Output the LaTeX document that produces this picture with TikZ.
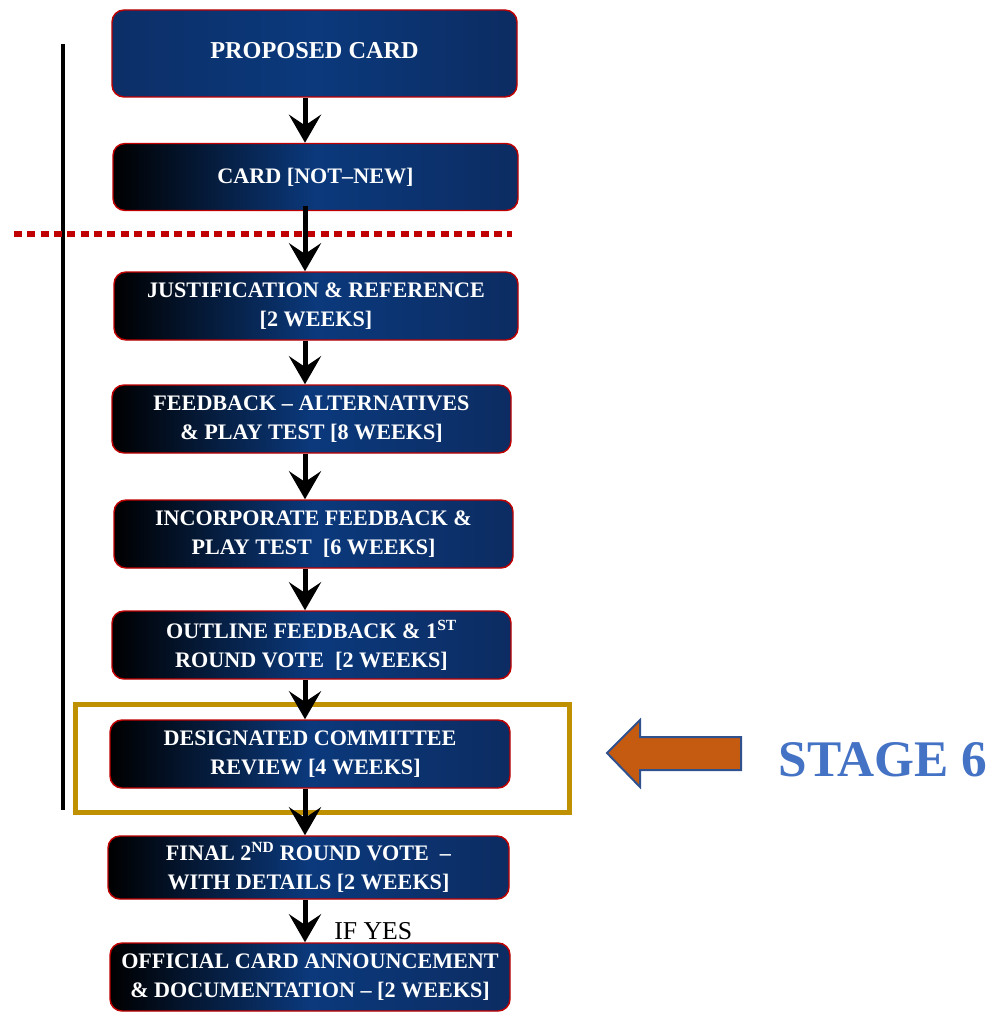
\documentclass[tikz,border=0pt]{standalone}
\usepackage{fontspec}
\setmainfont{Liberation Serif}
\usetikzlibrary{arrows.meta}
\definecolor{cardred}{HTML}{C00000}
\definecolor{cardblue}{HTML}{0B397C}
\definecolor{cardnavy}{HTML}{0C2C62}
\definecolor{stagegold}{HTML}{BF9000}
\definecolor{stageorange}{HTML}{C55A11}
\definecolor{stageedge}{HTML}{2F528F}
\definecolor{stagetext}{HTML}{4472C4}
\begin{document}
\begin{tikzpicture}[x=0.75pt,y=-0.75pt,
  card/.style={rounded corners=9pt, draw=cardred, line width=1.1pt,
    left color=black, right color=cardnavy, middle color=cardblue,
    text=white, font=\bfseries\fontsize{16.6}{21.5}\selectfont,
    align=center, inner sep=0pt},
  topcard/.style={card, left color=cardnavy!80!cardblue, right color=cardnavy,
    middle color=cardblue, font=\bfseries\fontsize{18.2}{22}\selectfont},
  wh/.style 2 args={minimum width=#1*0.75pt, minimum height=#2*0.75pt},
  flow/.style={line width=3.75pt, -{Stealth[length=21pt,width=24pt,inset=8pt]}},
]
\useasboundingbox (0,0) rectangle (1004,1013);

% side markers
\draw[line width=3pt] (63,44) -- (63,810);
\draw[cardred, line width=4.5pt, dash pattern=on 6pt off 4pt] (14,234) -- (512,234);
\draw[stagegold, line width=3.75pt] (75,704) rectangle (569,812);

% process steps
\node[topcard, wh={405}{87}] (s1) at (314.5,53.5) {PROPOSED CARD\vphantom{g}};
\node[card, wh={405}{67}] (s2) at (315.5,177) {CARD [NOT–NEW]};
\node[card, wh={404}{68}] (s3) at (316,306) {JUSTIFICATION \& REFERENCE\\{}[2 WEEKS]};
\node[card, wh={399}{68}] (s4) at (311.5,419) {FEEDBACK – ALTERNATIVES\\\& PLAY TEST [8 WEEKS]};
\node[card, wh={399}{68}] (s5) at (313.5,534) {INCORPORATE FEEDBACK \&\\PLAY TEST \ [6 WEEKS]};
\node[card, wh={399}{68}] (s6) at (311.5,645) {OUTLINE FEEDBACK \& 1\textsuperscript{ST}\\ROUND VOTE \ [2 WEEKS]};
\node[card, wh={400}{68}] (s7) at (310,754) {DESIGNATED COMMITTEE\\\ \ REVIEW [4 WEEKS]};
\node[card, wh={401}{63}] (s8) at (308.5,867.5) {FINAL 2\textsuperscript{ND} ROUND VOTE \ –\\WITH DETAILS [2 WEEKS]};
\node[card, wh={400}{68}] (s9) at (310,977) {OFFICIAL CARD ANNOUNCEMENT\\\& DOCUMENTATION – [2 WEEKS]};

% connectors along the common axis
\coordinate (ax) at (305,0);
\draw[flow] (s1.south -| ax) -- (s2.north -| ax);
\draw[flow] ([yshift=4pt]s2.south -| ax) -- (s3.north -| ax);
\draw[flow] (s3.south -| ax) -- (s4.north -| ax);
\draw[flow] (s4.south -| ax) -- (s5.north -| ax);
\draw[flow] (s5.south -| ax) -- (s6.north -| ax);
\draw[flow] (s6.south -| ax) -- (s7.north -| ax);
\draw[flow] (s7.south -| ax) -- (s8.north -| ax);
\draw[flow] (s8.south -| ax) -- (s9.north -| ax);
\node[anchor=west, font=\fontsize{19.3}{20}\selectfont, inner sep=0pt] (ifyes) at (334,931) {IF YES};

% stage marker
\draw[fill=stageorange, draw=stageedge, line width=1.5pt, line join=miter]
  (607,753) -- (640,720) -- (640,737) -- (741,737) -- (741,770) -- (640,770) -- (640,787) -- cycle;
\node[text=stagetext, font=\bfseries\fontsize{38.5}{40}\selectfont, inner sep=0pt] (stage) at (883,760) {STAGE 6};
\end{tikzpicture}
\end{document}
